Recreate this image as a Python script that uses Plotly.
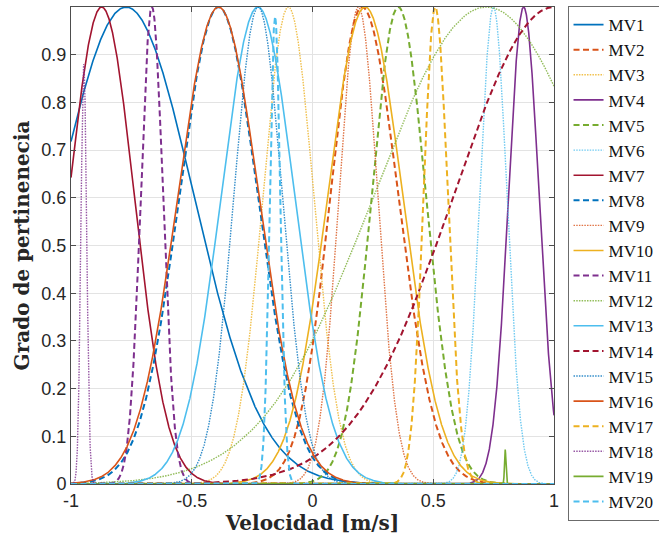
import numpy as np
import plotly.graph_objects as go

# Membership functions (Gaussian parameters)
names = [f"MV{i}" for i in range(1, 21)]
centers = [-0.772, 0.205, -0.100, 0.874, 0.355, 0.749, -0.873, -0.389, 0.190, 0.218,
           -0.665, 0.720, -0.226, 1.000, -0.225, -0.389, 0.508, -0.947, 0.798, -0.155]
sigma_left = [0.280, 0.130, 0.105, 0.062, 0.110, 0.056, 0.135, 0.162, 0.080, 0.155,
              0.046, 0.465, 0.152, 0.415, 0.100, 0.168, 0.048, 0.012, 0.003, 0.022]
sigma_right = [0.280, 0.150, 0.105, 0.064, 0.115, 0.056, 0.135, 0.162, 0.080, 0.155,
               0.046, 0.465, 0.152, 0.415, 0.100, 0.166, 0.052, 0.012, 0.003, 0.022]
peaks = [1, 1, 1, 1, 1, 1, 1, 1, 1, 1, 1, 1, 1, 1, 1, 1, 1, 0.88, 0.072, 0.98]

x_ticks = [-1, -0.5, 0, 0.5, 1]
y_ticks = [0, 0.1, 0.2, 0.3, 0.4, 0.5, 0.6, 0.7, 0.8, 0.9]

palette = ["#0072BD", "#D95319", "#EDB120", "#7E2F8E", "#77AC30", "#4DBEEE", "#A2142F"]
styles = ["solid", "dash", "dot"]

x = np.linspace(-1, 1, 4001)
fig = go.Figure()
for i, name in enumerate(names):
    c = centers[i]
    s = np.where(x < c, sigma_left[i], sigma_right[i])
    y = peaks[i] * np.exp(-((x - c) ** 2) / (2 * s ** 2))
    st = styles[i % 3]
    op = 1.0
    if st == "solid":
        dash, w = "solid", 1.6
    elif st == "dash":
        dash, w = "6px,3.5px", 2.0
    else:
        dash, w, op = "1.5px,1.2px", 1.4, 0.8
    fig.add_trace(go.Scatter(x=x, y=y, mode="lines", name=name, opacity=op,
                             line=dict(color=palette[i % 7], width=w, dash=dash)))

axis_common = dict(showline=True, linecolor="#4d4d4d", linewidth=1, mirror="ticks",
                   ticks="inside", ticklen=5, tickcolor="#4d4d4d",
                   showgrid=True, gridcolor="#e3e3e3", gridwidth=1, zeroline=False,
                   tickfont=dict(family="Liberation Sans, Arial", size=18, color="#262626"))

title_font = dict(family="DejaVu Serif", size=20, color="#262626")

fig.update_layout(
    width=659, height=544,
    margin=dict(l=71, r=105, t=7, b=60, autoexpand=False),
    paper_bgcolor="white", plot_bgcolor="white",
    xaxis=dict(range=[-1, 1], tickvals=x_ticks, ticktext=["-1", "-0.5", "0", "0.5", "1"],
               title=dict(text="<b>Velocidad [m/s]</b>", standoff=2, font=title_font),
               **axis_common),
    yaxis=dict(range=[0, 1], tickvals=y_ticks, ticktext=[str(v) for v in y_ticks],
               title=dict(text="<b>Grado de pertinenecia</b>", standoff=6, font=title_font),
               **axis_common),
    legend=dict(x=1.028, y=1.002, xanchor="left", yanchor="top",
                bordercolor="#6b6b6b", borderwidth=1, bgcolor="white",
                font=dict(family="Liberation Serif, DejaVu Serif", size=17, color="#111111"),
                tracegroupgap=0, itemwidth=30, maxheight=600),
    showlegend=True,
)

fig.write_html("out.html", config={"displayModeBar": False},
               post_script="document.body.style.margin='0';")
